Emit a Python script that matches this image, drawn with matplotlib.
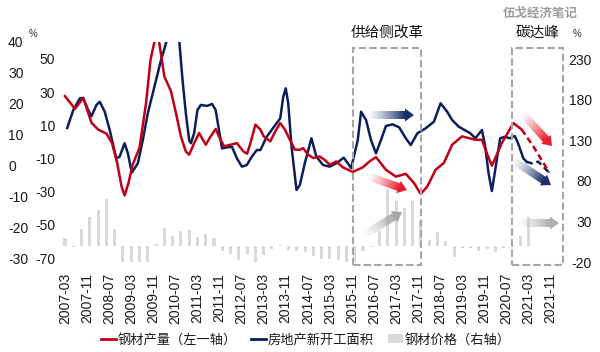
import numpy as np
import matplotlib
matplotlib.use('Agg')
import matplotlib.pyplot as plt
from matplotlib.patches import Rectangle, Polygon, Patch
from matplotlib.lines import Line2D
from matplotlib.colors import to_rgb
from matplotlib.transforms import blended_transform_factory

plt.rcParams['font.family'] = ['Liberation Sans', 'Noto Sans CJK SC']
plt.rcParams['axes.unicode_minus'] = False
plt.rcParams['text.color'] = '#1A1A1A'
plt.rcParams['xtick.color'] = '#1A1A1A'
plt.rcParams['ytick.color'] = '#1A1A1A'

# months counted from 2007-03
tick_months = list(range(0, 177, 8))
tick_labels = ['2007-03', '2007-11', '2008-07', '2009-03', '2009-11', '2010-07',
               '2011-03', '2011-11', '2012-07', '2013-03', '2013-11', '2014-07',
               '2015-03', '2015-11', '2016-07', '2017-03', '2017-11', '2018-07',
               '2019-03', '2019-11', '2020-07', '2021-03', '2021-11']

# steel output yoy (left axis 1)
red_m = [0, 3.6, 6.6, 9.6, 12, 15, 17, 18.8, 20.5, 21.6,
         23, 24.5, 27, 29.4, 31, 32.4, 33.3, 34.2, 36, 38.4,
         40.2, 42, 43.8, 45, 46.8, 48.6, 51, 52.8, 54.6, 55.8,
         57.6, 60, 62.3, 64.7, 66, 67.2, 69, 70.8, 72, 74.4,
         76.2, 78, 79.7, 81.5, 83.3, 85.1, 86.3, 88.1, 90, 92.3,
         94.1, 96, 98.3, 100.7, 103.1, 104.3, 107.9, 110.5, 112.7, 116.3,
         119.9, 123.5, 126.5, 128.9, 131.3, 134.3, 137.3, 140.3, 143.9, 148.7,
         151.1, 152.9, 154.7, 158.3, 162.5, 165.5, 169.7, 175.5]
red_v = [22.5, 18.4, 21.9, 13.9, 11.7, 10.4, 7.4, 1.4, -6.7, -9.6,
         -5.6, 0.3, 5.8, 20.4, 34.3, 40, 44, 39.5, 28.9, 24.1,
         17.1, 9.5, 4.6, 3.6, 7.3, 10.6, 6.8, 9.5, 11.9, 9.5,
         6.3, 6.8, 7.3, 4.6, 3.9, 7.3, 13.3, 11.7, 9.5, 7.9,
         11.1, 13.8, 11.7, 8.4, 5.2, 5.2, 5.7, 3.6, 2.5, 3.0,
         1.9, 0.3, 1.4, -0.5, -1.5, -2, -0.5, 1.5, 2.8, -1.3,
         -3.5, -2.6, -5.6, -9.1, -6.7, -1.3, 0.9, 6.8, 9.5, 8.4,
         8.4, 4, 0, 7.3, 13.8, 11.7, 6.3, -2.2]
red_fc = 75  # dashed from here on

# new housing starts yoy (left axis 2)
blue_m = [0.8, 3.0, 5.4, 6.6, 8.4, 9.6, 11.4, 12.6, 14.4, 16.2,
          18.6, 19.8, 21.6, 22.8, 24.2, 26.4, 28.2, 30, 32.4, 34.8,
          36, 38.7, 41.4, 42.6, 43.8, 45, 45.6, 46.8, 48, 49.2,
          51.5, 53.3, 54.6, 55.8, 56.9, 58.7, 60.5, 62.3, 64.1, 65.9,
          67.7, 69.5, 70.8, 73.1, 76.2, 78, 79.1, 80, 80.9, 82.1,
          83.9, 85.1, 86.9, 89.3, 91.1, 93.5, 95.9, 98.3, 101, 102.5,
          103.7, 106.1, 107.3, 109.1, 110.9, 112.7, 114.5, 116.3, 118.7, 121.1,
          123.5, 125.3, 127.7, 130.7, 133.7, 136.1, 138.5, 140.3, 142.7, 146.9,
          148.7, 151.1, 152.3, 153.5, 154.7, 155.9, 157.7, 159.5, 161.2, 163,
          164.2, 166.1, 167.3, 169.1, 171.5, 175.1]
blue_v = [8.4, 19.2, 26.3, 26.5, 19.2, 15.5, 22.3, 24.2, 18.2, 7.2,
          -10, -8.9, -0.8, -6.9, -18.6, -12.9, 1.1, 17.2, 33.3, 49.4,
          56, 72, 61, 37.3, 17.2, 1.1, -0.8, 5.2, 19.2, 22.3,
          21.7, 22.9, 19.2, 7.2, -3.9, -3.3, -2.9, -9.9, -14.9, -13.9,
          -8.9, -4.9, -4.9, 3.1, 10.2, 14.2, 27.3, 32.3, 23.3, -2.9,
          -29, -26, -12.9, 2.2, -8.9, -13.9, -14.9, -12.9, -9.5, -12.9,
          -15.8, 1.1, 18.2, 13.2, 1.1, -6.9, 1.1, 9.6, 10.6, 8.8,
          2.2, -1.9, 5.2, 8.2, 12.2, 23.3, 18.2, 13.2, 9.2, 5.2,
          2.2, 7.2, -2.9, -18.9, -29.6, -17, 2.2, 3.1, 2.2, 3.6,
          -0.8, -9.9, -12, -12.9, -11.9, -17.9]
blue_fc = 92

# steel price yoy, quarterly (right axis)
bar_v = [9, -1, 21, 36, 44, 57, 21, -20, -20, -20,
         -20, 2, 22, 12, 18, 19, 11, 14, 9, -7,
         -10, -17, -10, -21, -11, -4, 1, -5, -7, -8,
         -12, -16, -16, -17, -20, -21, -7, -1, 18, 70,
         55, 47, 55, 30, 7, 17, 6, -14, -3, -3,
         -6, -4, -8, -3, -1, 12, 36]
bar_m = [3 * i for i in range(len(bar_v))]

periods = [(104.3, 129.0, '供给侧改革'), (162.0, 180.4, '碳达峰')]

RED = '#C00018'
BLUE = '#0C1F5C'
GRAY = '#D9D9D9'


def grad_arrow(ax, x0, y0, x1, y1, color, w=8, hw=13, hl=9):
    dx, dy = x1 - x0, y1 - y0
    L = np.hypot(dx, dy)
    ux, uy = dx / L, dy / L
    px, py = -uy, ux
    bx, by = x1 - ux * hl, y1 - uy * hl
    pts = [(x0 + px * w / 2, y0 + py * w / 2), (bx + px * w / 2, by + py * w / 2),
           (bx + px * hw / 2, by + py * hw / 2), (x1, y1),
           (bx - px * hw / 2, by - py * hw / 2), (bx - px * w / 2, by - py * w / 2),
           (x0 - px * w / 2, y0 - py * w / 2)]
    pts = np.array(pts)
    xmin, ymin = pts.min(axis=0) - 1
    xmax, ymax = pts.max(axis=0) + 1
    X, Y = np.meshgrid(np.linspace(xmin, xmax, 120), np.linspace(ymin, ymax, 120))
    t = np.clip(((X - x0) * ux + (Y - y0) * uy) / (L - hl), 0, 1)
    img = np.zeros(X.shape + (4,))
    img[..., :3] = to_rgb(color)
    img[..., 3] = t ** 1.3
    im = ax.imshow(img, extent=(xmin, xmax, ymin, ymax), origin='lower',
                   aspect='auto', interpolation='bilinear')
    poly = Polygon(pts, closed=True, transform=ax.transData, facecolor='none', edgecolor='none')
    ax.add_patch(poly)
    im.set_clip_path(poly)


fig = plt.figure(figsize=(6, 3.52), dpi=100)
pos = [60 / 600, 90 / 352, 505 / 600, 220 / 352]
ax_bar = fig.add_axes(pos, zorder=1)
ax_blue = fig.add_axes(pos, zorder=2)
ax_red = fig.add_axes(pos, zorder=3)

for a in (ax_bar, ax_blue, ax_red):
    a.set_facecolor('none')
    for s in a.spines.values():
        s.set_visible(False)
    a.set_xlim(-1.81, 181.2)

ax_bar.bar(bar_m, bar_v, width=1.1, color=GRAY)
ax_bar.set_ylim(-20, 251)
ax_bar.yaxis.tick_right()
ax_bar.set_yticks([-20, 30, 80, 130, 180, 230], ['-20', '30', '80', '130', '180', '230'],
                  ha='right', fontsize=10)
ax_bar.tick_params(axis='y', length=0, pad=19.5)
ax_bar.set_xticks([])

ax_blue.plot(blue_m[:blue_fc + 1], blue_v[:blue_fc + 1], color=BLUE, lw=1.8)
ax_blue.plot(blue_m[blue_fc:], blue_v[blue_fc:], color=BLUE, lw=1.8, ls=(0, (2.5, 1.5)))
ax_blue.set_ylim(-72.4, 60.25)
ax_blue.set_yticks(list(range(-70, 51, 20)))
ax_blue.tick_params(axis='y', length=0, pad=3.6, labelsize=10)
ax_blue.set_xticks([])

ax_red.plot(red_m[:red_fc + 1], red_v[:red_fc + 1], color=RED, lw=1.8)
ax_red.plot(red_m[red_fc:], red_v[red_fc:], color=RED, lw=1.8, ls=(0, (2.5, 1.5)))
ax_red.set_ylim(-31.1, 40)
ax_red.set_yticks(list(range(-30, 41, 10)), [str(v) for v in range(-30, 41, 10)],
                  ha='left', fontsize=10)
ax_red.tick_params(axis='y', length=0, pad=37.4)
ax_red.set_xticks(tick_months, tick_labels, rotation=90, fontsize=10)
ax_red.tick_params(axis='x', length=0, pad=8)

# highlighted periods
trans = blended_transform_factory(ax_red.transData, ax_red.transAxes)
for x0, x1, name in periods:
    ax_red.add_patch(Rectangle((x0, -0.014), x1 - x0, 0.987, transform=trans, fill=False,
                               edgecolor='#A6A6A6', lw=1.5, ls=(0, (3.5, 1.6)),
                               clip_on=False, zorder=5))
    ax_red.text((x0 + x1) / 2, 1.043, name, transform=trans, ha='center', va='center',
                fontsize=10.5, color='#111111')

# overlay in pixel coords for arrows and notes
ov = fig.add_axes([0, 0, 1, 1], zorder=6)
ov.axis('off')
grad_arrow(ov, 367, 115, 414, 115, '#1B2F6B')
grad_arrow(ov, 367, 176, 407, 190, '#E8202E')
grad_arrow(ov, 362, 236, 402, 212, '#A6A6A6')
grad_arrow(ov, 522, 113, 552, 146, '#E8202E')
grad_arrow(ov, 513, 160, 551, 185, '#1B2F6B')
grad_arrow(ov, 517, 223, 559, 223, '#B0B0B0')
ov.set_xlim(0, 600)
ov.set_ylim(352, 0)
ov.text(540, 14, '伍戈经济笔记', fontsize=9, fontweight='bold', color='#9C9C9C',
        ha='center', va='center')
ov.text(33, 34, '%', fontsize=7, color='#333333', ha='center', va='center')
ov.text(577, 34, '%', fontsize=7, color='#333333', ha='center', va='center')

handles = [Line2D([], [], color=RED, lw=2), Line2D([], [], color=BLUE, lw=2),
           Patch(facecolor=GRAY, edgecolor='none')]
labels = ['钢材产量（左一轴）', '房地产新开工面积', '钢材价格（右轴）']
fig.legend(handles, labels, loc='center', bbox_to_anchor=(0.51, 12 / 352), ncol=3,
           frameon=False, fontsize=9.5, handlelength=1.1, handletextpad=0.15,
           columnspacing=1.1)

fig.savefig('out.png', dpi=100)
